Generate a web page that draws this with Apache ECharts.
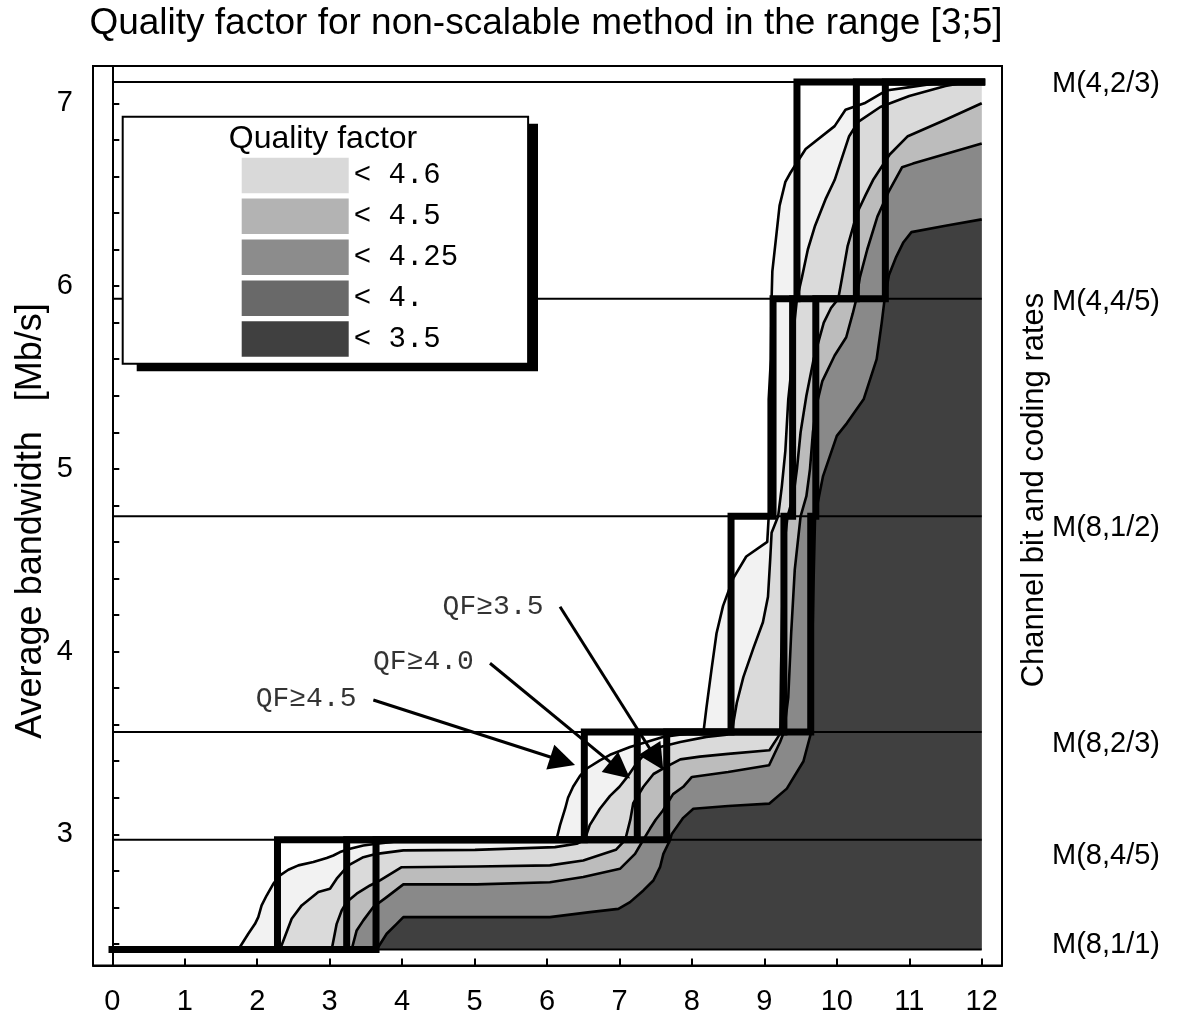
<!DOCTYPE html>
<html>
<head>
<meta charset="utf-8">
<script src="https://cdn.jsdelivr.net/npm/echarts@6/dist/echarts.min.js"></script>
<style>
  html, body { margin: 0; padding: 0; background: #fff; }
  #chart { width: 1177px; height: 1030px; }
</style>
</head>
<body>
<div id="chart"></div>
<script>
// ---- axis ticks ----
const xTicks = [0, 1, 2, 3, 4, 5, 6, 7, 8, 9, 10, 11, 12];
const yLabelTicks = [3, 4, 5, 6, 7];
const yTicks = [2.4, 2.6, 2.8, 3, 3.2, 3.4, 3.6, 3.8, 4, 4.2, 4.4, 4.6, 4.8,
                5, 5.2, 5.4, 5.6, 5.8, 6, 6.2, 6.4, 6.6, 6.8, 7];

// ---- channel modes: required bandwidth (Mb/s) ----
const rateNames  = ['M(8,1/1)', 'M(8,4/5)', 'M(8,2/3)', 'M(8,1/2)', 'M(4,4/5)', 'M(4,2/3)'];
const rateLevels = [2.37, 2.97, 3.56, 4.74, 5.93, 7.117];
const rateLabelAt = [2.394, 2.881, 3.494, 4.676, 5.915, 7.107];

// ---- quality factor classes ----
const legendNames  = ['< 4.6', '< 4.5', '< 4.25', '< 4.', '< 3.5'];
const legendColors = ['#d9d9d9', '#b3b3b3', '#8c8c8c', '#696969', '#404040'];
const bandColors   = ['#f2f2f2', '#dadada', '#bcbcbc', '#898989', '#404040'];

// ---- contour boundaries [x, bandwidth] ----
const contourA = [[1.74,2.37],[1.877,2.456],[1.97,2.51],[2.015,2.547],[2.061,2.611],[2.13,2.665],
  [2.222,2.729],[2.315,2.775],[2.43,2.806],[2.568,2.83],[2.775,2.848],[2.959,2.87],[3.051,2.884],
  [3.143,2.903],[3.281,2.921],[3.465,2.939],[3.649,2.948],[3.833,2.957],[4.017,2.966],[4.2,2.97],
  [6.13,2.97],[6.18,3.05],[6.25,3.14],[6.29,3.2],[6.36,3.26],[6.455,3.32],[6.55,3.36],[6.73,3.405],
  [6.87,3.435],[7.146,3.478],[7.6,3.533],[8.11,3.56],[8.16,3.56],[8.2,3.69],[8.27,3.9],[8.34,4.1],
  [8.43,4.25],[8.57,4.4],[8.75,4.52],[9.04,4.6],[9.06,4.74],[9.06,5.38],[9.09,5.6],[9.1,5.93],
  [9.11,6.08],[9.16,6.26],[9.21,6.44],[9.29,6.57],[9.36,6.62],[9.57,6.75],[9.97,6.875],[10.12,6.965],
  [10.38,7.0],[10.68,7.07],[11.03,7.09],[11.5,7.117],[12,7.117]];
const contourB = [[2.315,2.37],[2.476,2.538],[2.614,2.611],[2.844,2.684],[3.005,2.702],[3.097,2.757],
  [3.258,2.83],[3.465,2.875],[3.649,2.893],[4.017,2.912],[5.006,2.915],[6.11,2.93],[6.41,2.948],
  [6.52,2.97],[6.59,3.05],[6.73,3.14],[6.87,3.21],[7.0,3.26],[7.1,3.31],[7.24,3.39],[7.37,3.45],
  [7.56,3.478],[7.84,3.505],[8.2,3.533],[8.48,3.545],[8.55,3.56],[8.62,3.72],[8.71,3.86],[8.85,4.02],
  [8.98,4.16],[9.05,4.3],[9.08,4.5],[9.1,4.65],[9.19,4.74],[9.24,4.9],[9.29,5.1],[9.33,5.38],
  [9.38,5.57],[9.42,5.82],[9.45,5.93],[9.52,6.05],[9.6,6.2],[9.7,6.33],[9.85,6.48],[9.97,6.58],
  [10.07,6.7],[10.17,6.82],[10.3,6.9],[10.6,6.98],[11.0,7.04],[11.5,7.095],[11.8,7.117],[12,7.117]];
const contourC = [[3.028,2.37],[3.097,2.51],[3.166,2.583],[3.235,2.629],[3.373,2.675],[3.557,2.72],
  [3.695,2.748],[3.994,2.82],[5.03,2.824],[6.04,2.83],[6.5,2.857],[6.95,2.915],[7.08,2.97],[7.15,3.08],
  [7.19,3.17],[7.33,3.26],[7.47,3.33],[7.65,3.37],[7.84,3.41],[8.11,3.425],[8.5,3.44],[9.07,3.46],
  [9.2,3.54],[9.22,3.56],[9.23,3.9],[9.25,4.3],[9.28,4.6],[9.32,4.74],[9.4,4.85],[9.45,5.0],[9.5,5.2],
  [9.58,5.4],[9.68,5.6],[9.82,5.8],[9.92,5.88],[10.02,5.93],[10.07,6.04],[10.15,6.22],[10.28,6.4],
  [10.4,6.5],[10.5,6.58],[10.73,6.72],[10.98,6.82],[11.5,6.91],[12,7.0]];
const contourD = [[3.304,2.37],[3.373,2.474],[3.465,2.529],[3.603,2.602],[3.787,2.656],[4.017,2.726],
  [5.03,2.726],[6.04,2.738],[6.5,2.766],[7.007,2.811],[7.215,2.893],[7.33,2.97],[7.42,3.03],[7.5,3.08],
  [7.6,3.13],[7.74,3.22],[7.88,3.26],[8.0,3.314],[8.5,3.341],[9.065,3.378],[9.217,3.505],[9.27,3.56],
  [9.33,3.75],[9.37,4.1],[9.42,4.45],[9.5,4.74],[9.58,4.85],[9.63,5.0],[9.67,5.2],[9.72,5.35],
  [9.8,5.48],[9.97,5.62],[10.13,5.72],[10.22,5.85],[10.27,5.93],[10.32,6.05],[10.42,6.2],[10.56,6.38],
  [10.72,6.52],[10.9,6.65],[11.05,6.67],[12,6.78]];
const contourE = [[3.649,2.37],[3.787,2.456],[3.925,2.51],[4.017,2.547],[5.03,2.547],[6.04,2.547],
  [6.593,2.574],[6.985,2.592],[7.146,2.629],[7.33,2.693],[7.468,2.747],[7.56,2.82],[7.606,2.893],
  [7.7,2.97],[7.72,3.0],[7.88,3.09],[8.02,3.14],[8.5,3.155],[9.07,3.168],[9.31,3.25],[9.54,3.4],
  [9.647,3.56],[9.66,4.0],[9.68,4.4],[9.7,4.74],[9.75,4.84],[9.81,4.96],[10.0,5.18],[10.14,5.25],
  [10.37,5.38],[10.55,5.6],[10.62,5.8],[10.66,5.93],[10.72,6.06],[10.82,6.16],[10.92,6.24],
  [11.03,6.295],[11.5,6.33],[12,6.365]];
const contours = [contourA, contourB, contourC, contourD, contourE];

// ---- mode switching points for each QF threshold (x at each mode level) ----
const stepQF45 = [2.28, 6.515, 8.54, 9.12, 9.45];
const stepQF40 = [3.235, 7.246, 9.27, 9.39, 10.27];
const stepQF35 = [3.64, 7.652, 9.64, 9.71, 10.67];

// ---- callouts ----
const noteTexts = ['QF\u22654.5', 'QF\u22654.0', 'QF\u22653.5'];
const noteAt    = [[2.674, 3.741], [4.295, 3.943], [5.255, 4.245]];
const arrowFrom = [[3.603, 3.735], [5.213, 3.936], [6.18, 4.245]];
const arrowTo   = [[6.387, 3.379], [7.146, 3.306], [7.605, 3.352]];

const SANS = 'Liberation Sans, Arial, Helvetica, sans-serif';
const MONO = 'Liberation Mono, Courier New, monospace';
const xEnd = xTicks[xTicks.length - 1];

function staircase(xs) {
  const pts = [[xTicks[0], rateLevels[0]]];
  xs.forEach((x, i) => {
    pts.push([x, rateLevels[i]]);
    pts.push([x, rateLevels[i + 1]]);
  });
  pts.push([xEnd, rateLevels[rateLevels.length - 1]]);
  return pts;
}

const chart = echarts.init(document.getElementById('chart'), null, { renderer: 'canvas' });

const series = [];
contours.forEach((c, i) => {
  series.push({
    type: 'line', name: legendNames[i], data: c, symbol: 'none', silent: true,
    z: 2, smooth: false,
    itemStyle: { color: legendColors[i] },
    lineStyle: { color: '#000', width: 2.6, join: 'round' },
    areaStyle: { color: bandColors[i], opacity: 1, origin: rateLevels[0] }
  });
});
rateLevels.forEach((lvl) => {
  series.push({
    type: 'line', data: [[xTicks[0], lvl], [xEnd, lvl]], symbol: 'none', silent: true, z: 3,
    lineStyle: { color: '#000', width: 2 }
  });
});
[stepQF45, stepQF40, stepQF35].forEach((s) => {
  series.push({
    type: 'line', data: staircase(s), symbol: 'none', silent: true, z: 4, clip: false,
    lineStyle: { color: '#000', width: 7, cap: 'square', join: 'miter' }
  });
});
series.push({
  type: 'lines', id: 'arrows', coordinateSystem: 'cartesian2d', silent: true, z: 5,
  symbol: ['none', 'triangle'], symbolSize: [18, 26],
  lineStyle: { color: '#000', width: 3, opacity: 1 },
  itemStyle: { color: '#000' },
  data: arrowFrom.map((f, i) => ({ coords: [f, arrowTo[i]] }))
});
series.push({
  type: 'scatter', silent: true, z: 6, symbolSize: 0,
  data: noteAt.map((p, i) => [p[0], p[1], noteTexts[i]]),
  label: {
    show: true, position: 'inside', formatter: (p) => p.value[2],
    fontFamily: MONO, fontSize: 28, color: '#000'
  }
});

// legend box geometry (pixels)
const legendBox = { left: 122.7, top: 116.7, width: 401.3, height: 247.6 };

const option = {
  animation: false,
  backgroundColor: '#fff',
  grid: {
    left: 93, top: 66, width: 909, height: 899.5,
    show: true, borderColor: '#000', borderWidth: 2, backgroundColor: 'transparent',
    containLabel: false, outerBoundsMode: 'none'
  },
  xAxis: {
    type: 'value', min: -0.2664, max: 12.28,
    axisLine: { show: true, lineStyle: { color: '#000', width: 2 } },
    axisTick: { show: true, inside: true, length: 7, customValues: xTicks, lineStyle: { color: '#000', width: 2 } },
    axisLabel: { customValues: xTicks, color: '#000', fontFamily: SANS, fontSize: 29, margin: 22 },
    splitLine: { show: false }
  },
  yAxis: [{
    type: 'value', min: 2.2821, max: 7.2041,
    axisLine: { show: true, lineStyle: { color: '#000', width: 2 } },
    axisTick: { show: true, inside: true, length: 7, customValues: yTicks, lineStyle: { color: '#000', width: 2 } },
    axisLabel: { customValues: yLabelTicks, color: '#000', fontFamily: SANS, fontSize: 29, margin: 20 },
    splitLine: { show: false }
  }, {
    type: 'value', min: 2.2821, max: 7.2041, position: 'right',
    axisLine: { show: false }, axisTick: { show: false }, splitLine: { show: false },
    axisLabel: {
      customValues: rateLabelAt, color: '#000', fontFamily: SANS, fontSize: 29, margin: 50,
      formatter: (v) => {
        let k = 0;
        rateLabelAt.forEach((p, i) => { if (Math.abs(p - v) < Math.abs(rateLabelAt[k] - v)) k = i; });
        return rateNames[k];
      }
    }
  }],
  legend: {
    left: legendBox.left, top: legendBox.top, orient: 'vertical', selectedMode: false, z: 5,
    padding: [41, 70, 7, 119],
    itemWidth: 107, itemHeight: 35.5, itemGap: 5.4,
    icon: 'rect',
    backgroundColor: '#fff', borderColor: '#000', borderWidth: 2,
    textStyle: { fontFamily: MONO, fontSize: 29, color: '#000' },
    itemStyle: { borderWidth: 0 },
    data: legendNames.map((n, i) => ({ name: n, itemStyle: { color: legendColors[i], borderWidth: 0 } }))
  },
  graphic: [
    // drop shadow behind the legend box
    { type: 'rect', z: 4.5, silent: true,
      shape: { x: legendBox.left + 14, y: legendBox.top + 7, width: legendBox.width, height: legendBox.height },
      style: { fill: '#000' } },
    { type: 'text', x: 546, y: 24, z: 10, style: {
        text: 'Quality factor for non-scalable method in the range [3;5]',
        font: '37px ' + SANS, fill: '#000', textAlign: 'center', textVerticalAlign: 'middle' } },
    { type: 'text', x: 323, y: 139, z: 10, style: {
        text: 'Quality factor', font: '32px ' + SANS, fill: '#000',
        textAlign: 'center', textVerticalAlign: 'middle' } },
    { type: 'text', x: 31, y: 521, z: 10, rotation: Math.PI / 2, style: {
        text: 'Average bandwidth   [Mb/s]', font: '36px ' + SANS, fill: '#000',
        textAlign: 'center', textVerticalAlign: 'middle' } },
    { type: 'text', x: 1034, y: 490, z: 10, rotation: Math.PI / 2, style: {
        text: 'Channel bit and coding rates', font: '31px ' + SANS, fill: '#000',
        textAlign: 'center', textVerticalAlign: 'middle' } }
  ],
  series: series
};

chart.setOption(option);

// Pull each arrow's end back by half the head length so the triangle tip lands on the target.
const headLen = 26;
const fixed = arrowFrom.map((f, i) => {
  const a = chart.convertToPixel({ gridIndex: 0 }, f);
  const b = chart.convertToPixel({ gridIndex: 0 }, arrowTo[i]);
  const dx = b[0] - a[0], dy = b[1] - a[1];
  const len = Math.sqrt(dx * dx + dy * dy);
  const e = [b[0] - dx / len * headLen / 2, b[1] - dy / len * headLen / 2];
  return { coords: [f, chart.convertFromPixel({ gridIndex: 0 }, e)] };
});
chart.setOption({ series: [{ id: 'arrows', data: fixed }] });
</script>
</body>
</html>
